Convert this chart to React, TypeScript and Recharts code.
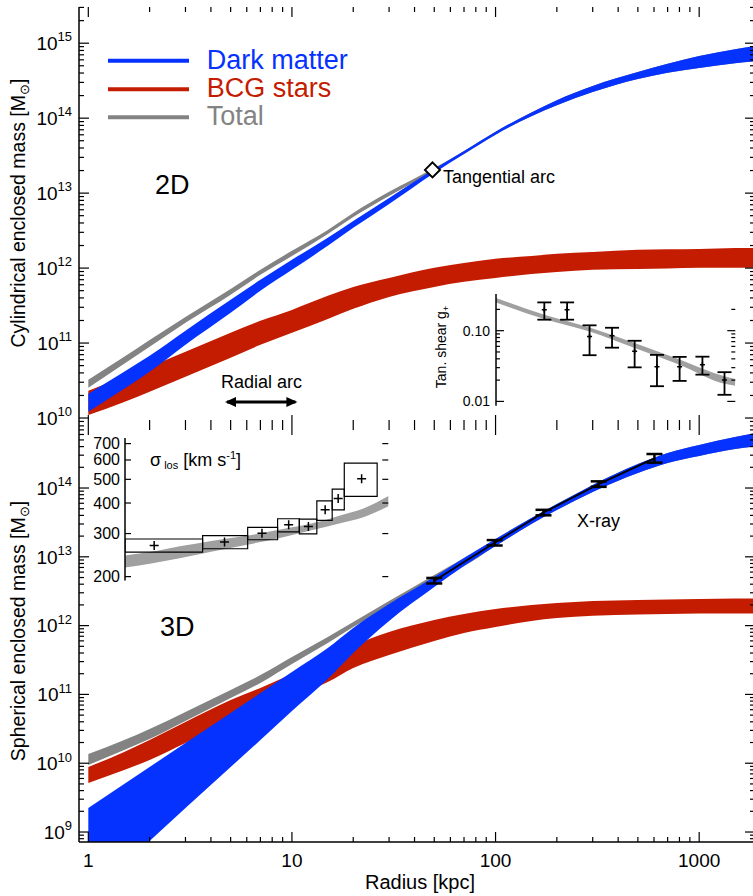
import React from "react"
import {
  ComposedChart,
  Area,
  Line,
  Scatter,
  XAxis,
  YAxis,
  ErrorBar,
  ReferenceArea,
  ReferenceLine,
} from "recharts"

const FONT = "'Liberation Sans', Arial, Helvetica, sans-serif"
const BLUE = "#0532ff"
const RED = "#c41c00"
const GREY = "#838383"
const LIGHT = "#a0a0a0"
const AX = { stroke: "#000", strokeWidth: 1.5 }

const radius = [1, 1.5, 2, 3, 5, 7, 10, 15, 20, 30, 50, 70, 100, 150, 200, 300, 500, 700, 1000, 1500, 2000]

// 2D (cylindrical) enclosed mass bands [Msun]
const dm2dLo = [1.21e10, 2.45e10, 4.13e10, 9.47e10, 2.53e11, 4.97e11, 9.47e11, 1.98e12, 3.44e12, 7.18e12, 1.86e13, 3.33e13, 6.03e13, 1.06e14, 1.49e14, 2.23e14, 3.33e14, 4.03e14, 4.67e14, 5.4e14, 5.79e14]
const dm2dHi = [2.1e10, 4.13e10, 6.75e10, 1.46e11, 3.77e11, 6.97e11, 1.29e12, 2.53e12, 4.26e12, 8.63e12, 2.1e13, 3.66e13, 6.61e13, 1.19e14, 1.74e14, 2.69e14, 4.13e14, 5.31e14, 6.74e14, 8.3e14, 9.46e14]
const bcg2dLo = [1.1e10, 1.64e10, 2.24e10, 3.54e10, 6.35e10, 9.47e10, 1.37e11, 2.1e11, 2.86e11, 4.13e11, 5.61e11, 6.55e11, 7.39e11, 8.37e11, 8.9e11, 9.47e11, 9.76e11, 9.9e11, 1.01e12, 1.01e12, 1.01e12]
const bcg2dHi = [2.31e10, 3.54e10, 4.82e10, 7.64e10, 1.37e11, 1.98e11, 2.77e11, 4.26e11, 5.61e11, 7.39e11, 1.01e12, 1.17e12, 1.33e12, 1.45e12, 1.55e12, 1.64e12, 1.75e12, 1.78e12, 1.8e12, 1.86e12, 1.86e12]
const tot2dLo = [2.53e10, 5.28e10, 8.9e10, 1.86e11, 4.4e11, 8.12e11, 1.45e12, 2.86e12, 4.82e12, 9.19e12, 1.98e13, 3.33e13, 6.03e13, 1.06e14, 1.49e14, 2.23e14, 3.33e14, 4.03e14, 4.67e14, 5.4e14, 5.79e14]
const tot2dHi = [3.23e10, 6.55e10, 1.1e11, 2.23e11, 5.28e11, 9.47e11, 1.7e12, 3.23e12, 5.45e12, 1.04e13, 2.17e13, 3.66e13, 6.61e13, 1.19e14, 1.74e14, 2.69e14, 4.13e14, 5.31e14, 6.74e14, 8.3e14, 9.46e14]

// 3D (spherical) enclosed mass bands [Msun]
const dm3dLo = [1.17e8, 3.54e8, 7.4e8, 2.23e9, 8.81e9, 2.17e10, 5.74e10, 1.67e11, 4.0e11, 1.17e12, 3.64e12, 7.35e12, 1.44e13, 3.0e13, 4.79e13, 8.75e13, 1.65e14, 2.31e14, 2.92e14, 3.69e14, 4.07e14]
const dm3dHi = [2.23e9, 4.99e9, 8.81e9, 1.97e10, 5.37e10, 1.05e11, 2.12e11, 4.72e11, 9.23e11, 2.06e12, 5.08e12, 9.61e12, 1.82e13, 3.66e13, 5.85e13, 1.11e14, 2.23e14, 3.23e14, 4.22e14, 5.51e14, 6.52e14]
const bcg3dLo = [5.15e9, 7.97e9, 1.11e10, 1.97e10, 3.97e10, 5.93e10, 9.16e10, 1.51e11, 2.42e11, 3.74e11, 5.97e11, 7.8e11, 9.55e11, 1.17e12, 1.29e12, 1.39e12, 1.45e12, 1.48e12, 1.5e12, 1.5e12, 1.5e12]
const bcg3dHi = [8.81e9, 1.46e10, 2.17e10, 3.97e10, 8.29e10, 1.24e11, 1.98e11, 3.16e11, 5.05e11, 8.07e11, 1.21e12, 1.48e12, 1.74e12, 1.99e12, 2.13e12, 2.28e12, 2.36e12, 2.39e12, 2.44e12, 2.48e12, 2.48e12]
const tot3dLo = [9.42e9, 1.56e10, 2.25e10, 4.1e10, 8.87e10, 1.47e11, 2.77e11, 5.58e11, 9.55e11, 1.93e12, 4.75e12, 7.35e12, 1.44e13, 3.0e13, 4.79e13, 8.75e13, 1.65e14, 2.31e14, 2.92e14, 3.69e14, 4.07e14]
const tot3dHi = [1.36e10, 2.17e10, 3.14e10, 5.55e10, 1.16e11, 1.91e11, 3.5e11, 6.82e11, 1.13e12, 2.28e12, 5.43e12, 9.61e12, 1.82e13, 3.66e13, 5.85e13, 1.11e14, 2.23e14, 3.23e14, 4.22e14, 5.51e14, 6.52e14]

// X-ray hydrostatic masses
const xrayR = [50, 99, 172, 321, 603]
const xrayM = [4.5e12, 1.6e13, 4.4e13, 1.14e14, 2.7e14]
const xrayErr = [[4.0e11, 4.3e11], [1.4e12, 1.5e12], [3.9e12, 4.2e12], [1.0e13, 1.1e13], [3.6e13, 4.2e13]]

// arcs
const tangArc = { r: 49, m: 2.04e13 }
const radialArcR = [4.8, 10.4]
const radialArcM = 1.64e10

// inset: tangential shear
const shearR = [173, 224, 289, 373, 482, 621, 803, 1040, 1336]
const shearG = [0.198, 0.198, 0.083, 0.085, 0.051, 0.031, 0.031, 0.033, 0.02]
const shearErr = [[0.055, 0.053], [0.055, 0.053], [0.038, 0.036], [0.0275, 0.025], [0.0207, 0.021], [0.0146, 0.0145], [0.0115, 0.0116], [0.0091, 0.0099], [0.0076, 0.0059]]
const shearModelR = [100, 173, 289, 482, 803, 1336, 1510]
const shearModelLo = [0.251, 0.146, 0.097, 0.057, 0.033, 0.0178, 0.0167]
const shearModelHi = [0.29, 0.168, 0.111, 0.067, 0.039, 0.0226, 0.0207]

// inset: velocity dispersion
const sigEdges = [1.51, 3.63, 6.04, 8.47, 10.83, 13.2, 15.7, 18.0, 26.1]
const sigLo = [252, 260, 283, 305, 299, 340, 375, 426]
const sigHi = [285, 294, 318, 345, 344, 408, 456, 583]
const sigR = [2.1, 4.65, 7.1, 9.6, 12.0, 14.5, 16.8, 21.9]
const sigV = [268, 277, 301, 326, 321, 375, 417, 503]
const sigModelR = [1.5, 2, 2.8, 4, 6, 9, 12.7, 17, 22.5, 30]
const sigModelLo = [218, 226, 238, 253, 270, 290, 311, 330, 351, 390]
const sigModelHi = [244, 252, 266, 280, 294, 313, 331, 355, 381, 429]
const sigTicks = [200, 300, 400, 500, 600, 700]

const X_DOM = [0.9, 1880]
const Y2D = [8.07e9, 3.04e15]
const Y3D = [7.16e8, 8.24e14]

const logTicks = (lo: number, hi: number) => {
  const out: number[] = []
  for (let e = Math.floor(Math.log10(lo)); e <= Math.ceil(Math.log10(hi)); e++)
    for (let m = 1; m < 10; m++) {
      const v = m * Math.pow(10, e)
      if (v >= lo && v <= hi) out.push(v)
    }
  return out
}
const isDecade = (v: number) => Math.abs(Math.log10(v) - Math.round(Math.log10(v))) < 1e-6
const decades = (lo: number, hi: number) => logTicks(lo, hi).filter(isDecade)

// tick labels only; tick marks are drawn with reference lines
const labelTick = (render: (v: number, x: number, y: number) => any) => (p: any) => {
  const v = Number(p?.payload?.value)
  return <g>{render(v, Number(p.x), Number(p.y))}</g>
}

// inward IDL-style tick marks on both opposite frame sides
const yMarks = (ticks: number[], big: number, small: number, major = isDecade, yAxisId?: any) =>
  ticks.map((v) => (
    <ReferenceLine
      key={"ym" + v}
      y={v}
      yAxisId={yAxisId}
      shape={(p: any) => {
        const len = major(v) ? big : small
        const a = Math.min(p.x1, p.x2)
        const b = Math.max(p.x1, p.x2)
        return (
          <g stroke="#000" strokeWidth={1.2}>
            <line x1={a} x2={a + len} y1={p.y1} y2={p.y1} />
            <line x1={b} x2={b - len} y1={p.y1} y2={p.y1} />
          </g>
        )
      }}
    />
  ))
const xMarks = (ticks: number[], big: number, small: number, major = isDecade) =>
  ticks.map((v) => (
    <ReferenceLine
      key={"xm" + v}
      x={v}
      shape={(p: any) => {
        const len = major(v) ? big : small
        const a = Math.min(p.y1, p.y2)
        const b = Math.max(p.y1, p.y2)
        return (
          <g stroke="#000" strokeWidth={1.2}>
            <line x1={p.x1} x2={p.x1} y1={a} y2={a + len} />
            <line x1={p.x1} x2={p.x1} y1={b} y2={b - len} />
          </g>
        )
      }}
    />
  ))

const powLabel = (v: number, x: number, y: number) => (
  <text x={x} y={y + 6.8} textAnchor="end" fontSize={19} fontFamily={FONT} fill="#000">
    10<tspan dy={-8.5} fontSize={13}>{Math.round(Math.log10(v))}</tspan>
  </text>
)
const radLabel = (v: number, x: number, y: number) => (
  <text x={x} y={y + 19} textAnchor="middle" fontSize={19} fontFamily={FONT} fill="#000">
    {Math.round(v)}
  </text>
)

const rows = radius.map((r, i) => ({
  r,
  dm2d: [dm2dLo[i], dm2dHi[i]],
  bcg2d: [bcg2dLo[i], bcg2dHi[i]],
  tot2d: [tot2dLo[i], tot2dHi[i]],
  dm3d: [dm3dLo[i], dm3dHi[i]],
  bcg3d: [bcg3dLo[i], bcg3dHi[i]],
  tot3d: [tot3dLo[i], tot3dHi[i]],
  top2d: dm2dHi[i],
  top3d: dm3dHi[i],
}))
const xray = xrayR.map((r, i) => ({ r, m: xrayM[i], err: xrayErr[i] }))
const radialArc = radialArcR.map((r) => ({ r, m: radialArcM }))
const shearPts = shearR.map((r, i) => ({ r, g: shearG[i], err: shearErr[i] }))
const shearModel = shearModelR.map((r, i) => ({ r, band: [shearModelLo[i], shearModelHi[i]], top: shearModelHi[i] }))
const sigPts = sigR.map((r, i) => ({ r, s: sigV[i] }))
const sigModel = sigModelR.map((r, i) => ({ r, band: [sigModelLo[i], sigModelHi[i]], top: sigModelHi[i] }))

const xTicks = logTicks(1, 1880)

const arrowHead = (p: any) => {
  const dir = p.index === 0 ? -1 : 1
  const { cx, cy } = p
  return (
    <polygon
      key={"ah" + p.index}
      points={`${cx + dir * 2},${cy} ${cx - dir * 9},${cy - 5} ${cx - dir * 9},${cy + 5}`}
      fill="#000"
    />
  )
}
const diamond = (p: any) => (
  <polygon
    points={`${p.cx},${p.cy - 7.5} ${p.cx + 7.5},${p.cy} ${p.cx},${p.cy + 7.5} ${p.cx - 7.5},${p.cy}`}
    fill="#fff"
    stroke="#000"
    strokeWidth={2}
  />
)
const plus = (size: number, w: number) => (p: any) => (
  <g stroke="#000" strokeWidth={w}>
    <line x1={p.cx - size} x2={p.cx + size} y1={p.cy} y2={p.cy} />
    <line x1={p.cx} x2={p.cx} y1={p.cy - size} y2={p.cy + size} />
  </g>
)

function MainAxes(yDom: number[], showX: boolean) {
  return [
    <XAxis
      key="xb"
      dataKey="r"
      type="number"
      scale="log"
      domain={X_DOM}
      allowDataOverflow
      ticks={[1, 10, 100, 1000]}
      interval={0}
      tickSize={0}
      tickMargin={6}
      tickLine={false}
      axisLine={AX}
      height={showX ? 50 : 0}
      tick={showX ? labelTick(radLabel) : false}
    />,
    <XAxis
      key="xt"
      xAxisId="t"
      orientation="top"
      dataKey="r"
      type="number"
      scale="log"
      domain={X_DOM}
      allowDataOverflow
      tick={false}
      tickLine={false}
      axisLine={AX}
      height={0}
    />,
    <YAxis
      key="yl"
      type="number"
      scale="log"
      domain={yDom}
      allowDataOverflow
      ticks={decades(yDom[0], yDom[1])}
      interval={0}
      tickSize={0}
      tickMargin={7}
      tickLine={false}
      axisLine={AX}
      width={79}
      tick={labelTick(powLabel)}
    />,
    <YAxis
      key="yr"
      yAxisId="r"
      orientation="right"
      type="number"
      scale="log"
      domain={yDom}
      allowDataOverflow
      tick={false}
      tickLine={false}
      axisLine={AX}
      width={0}
    />,
  ]
}

const band = (key: string, color: string) => (
  <Area
    key={key}
    dataKey={key}
    type="monotone"
    stroke="none"
    fill={color}
    fillOpacity={1}
    dot={false}
    activeDot={false}
    isAnimationActive={false}
  />
)
// invisible series so the top / right frame axes get registered
const ghost = (key: string) => (
  <Line
    key={"ghost" + key}
    xAxisId="t"
    yAxisId="r"
    dataKey={key}
    stroke="none"
    dot={false}
    activeDot={false}
    isAnimationActive={false}
  />
)

export default function App() {
  return (
    <div
      style={{
        position: "absolute",
        left: 0,
        top: 0,
        width: 753,
        height: 896,
        overflow: "hidden",
        background: "#fff",
        fontFamily: FONT,
      }}
    >
      {/* top panel: cylindrical (2D) */}
      <div style={{ position: "absolute", left: 0, top: 0 }}>
        <ComposedChart width={756} height={428} data={rows} margin={{ top: 7, right: 1, bottom: 3, left: 0 }}>
          {MainAxes(Y2D, false)}
          {band("tot2d", GREY)}
          {band("bcg2d", RED)}
          {band("dm2d", BLUE)}
          <Line
            data={radialArc}
            dataKey="m"
            stroke="#000"
            strokeWidth={3}
            dot={arrowHead}
            activeDot={false}
            isAnimationActive={false}
          />
          <Scatter data={[tangArc]} dataKey="m" shape={diamond} isAnimationActive={false} />
          {ghost("top2d")}
          {yMarks(logTicks(Y2D[0], Y2D[1]), 10, 5)}
          {xMarks(xTicks, 10, 5)}
        </ComposedChart>
      </div>

      {/* bottom panel: spherical (3D) */}
      <div style={{ position: "absolute", left: 0, top: 418 }}>
        <ComposedChart width={756} height={478} data={rows} margin={{ top: 7, right: 1, bottom: 4, left: 0 }}>
          {MainAxes(Y3D, true)}
          {band("tot3d", GREY)}
          {band("bcg3d", RED)}
          {band("dm3d", BLUE)}
          <Line
            data={xray}
            dataKey="m"
            type="linear"
            stroke="#000"
            strokeWidth={1.8}
            dot={false}
            activeDot={false}
            isAnimationActive={false}
          >
            <ErrorBar dataKey="err" direction="y" width={8} stroke="#000" strokeWidth={2.5} />
          </Line>
          {ghost("top3d")}
          {yMarks(logTicks(Y3D[0], Y3D[1]), 10, 5)}
          {xMarks(xTicks, 10, 5)}
        </ComposedChart>
      </div>

      {/* inset: tangential shear */}
      <div style={{ position: "absolute", left: 455.7, top: 286.3 }}>
        <ComposedChart width={280.3} height={127.7} data={shearModel} margin={{ top: 8, right: 1, bottom: 8, left: 0 }}>
          <XAxis dataKey="r" type="number" scale="log" domain={[100, 1510]} allowDataOverflow tick={false} tickLine={false} axisLine={AX} height={0} />
          <XAxis xAxisId="t" orientation="top" dataKey="r" type="number" scale="log" domain={[100, 1510]} allowDataOverflow tick={false} tickLine={false} axisLine={AX} height={0} />
          <YAxis
            type="number"
            scale="log"
            domain={[0.0087, 0.33]}
            allowDataOverflow
            ticks={[0.01, 0.1]}
            interval={0}
            tickSize={0}
            tickMargin={6}
            tickLine={false}
            axisLine={AX}
            width={40}
            tick={labelTick((v, x, y) => (
              <text x={x} y={y + 5} textAnchor="end" fontSize={14} fontFamily={FONT} fill="#000">
                {v < 0.05 ? "0.01" : "0.10"}
              </text>
            ))}
          />
          <YAxis yAxisId="r" orientation="right" type="number" scale="log" domain={[0.0087, 0.33]} allowDataOverflow tick={false} tickLine={false} axisLine={AX} width={0} />
          <Area dataKey="band" type="monotone" stroke="none" fill={LIGHT} fillOpacity={1} dot={false} activeDot={false} isAnimationActive={false} />
          <Scatter data={shearPts} dataKey="g" shape={plus(2.5, 1.5)} isAnimationActive={false}>
            <ErrorBar dataKey="err" direction="y" width={7} stroke="#000" strokeWidth={1.8} />
          </Scatter>
          <Line xAxisId="t" yAxisId="r" dataKey="top" stroke="none" dot={false} activeDot={false} isAnimationActive={false} />
          {yMarks(logTicks(0.01, 0.3), 8, 4)}
        </ComposedChart>
      </div>

      {/* inset: velocity dispersion */}
      <div style={{ position: "absolute", left: 80, top: 430.3 }}>
        <ComposedChart width={309.3} height={158.4} data={sigModel} margin={{ top: 8, right: 1, bottom: 8, left: 0 }}>
          <XAxis dataKey="r" type="number" scale="log" domain={[1.51, 29.6]} allowDataOverflow tick={false} tickLine={false} axisLine={AX} height={0} />
          <XAxis xAxisId="t" orientation="top" dataKey="r" type="number" scale="log" domain={[1.51, 29.6]} allowDataOverflow tick={false} tickLine={false} axisLine={AX} height={0} />
          <YAxis
            type="number"
            scale="log"
            domain={[193, 738]}
            allowDataOverflow
            ticks={sigTicks}
            interval={0}
            tickSize={0}
            tickMargin={5}
            tickLine={false}
            axisLine={AX}
            width={45}
            tick={labelTick((v, x, y) => (
              <text x={x} y={y + 5.5} textAnchor="end" fontSize={16} fontFamily={FONT} fill="#000">
                {v}
              </text>
            ))}
          />
          <YAxis yAxisId="r" orientation="right" type="number" scale="log" domain={[193, 738]} allowDataOverflow tick={false} tickLine={false} axisLine={AX} width={0} />
          <Area dataKey="band" type="monotone" stroke="none" fill={LIGHT} fillOpacity={1} dot={false} activeDot={false} isAnimationActive={false} />
          {sigLo.map((lo, i) => (
            <ReferenceArea
              key={"box" + i}
              x1={sigEdges[i]}
              x2={sigEdges[i + 1]}
              y1={lo}
              y2={sigHi[i]}
              fill="none"
              fillOpacity={0}
              stroke="#000"
              strokeWidth={1.2}
              ifOverflow="hidden"
            />
          ))}
          <Scatter data={sigPts} dataKey="s" shape={plus(4.5, 1.5)} isAnimationActive={false} />
          <Line xAxisId="t" yAxisId="r" dataKey="top" stroke="none" dot={false} activeDot={false} isAnimationActive={false} />
          {yMarks(sigTicks, 6, 6)}
        </ComposedChart>
      </div>

      {/* annotations and legend */}
      <svg
        width={753}
        height={896}
        style={{ position: "absolute", left: 0, top: 0, pointerEvents: "none" }}
        fontFamily={FONT}
      >
        <line x1={108} x2={189} y1={60.7} y2={60.7} stroke={BLUE} strokeWidth={4} />
        <line x1={108} x2={189} y1={89.3} y2={89.3} stroke={RED} strokeWidth={4} />
        <line x1={108} x2={189} y1={117.3} y2={117.3} stroke={GREY} strokeWidth={4} />
        <text x={206.7} y={68.5} fontSize={27} fill={BLUE}>Dark matter</text>
        <text x={206.7} y={97} fontSize={27} fill={RED}>BCG stars</text>
        <text x={206.7} y={125} fontSize={27} fill={GREY}>Total</text>

        <text x={155} y={194} fontSize={27}>2D</text>
        <text x={160} y={636} fontSize={27}>3D</text>
        <text x={443} y={183} fontSize={18}>Tangential arc</text>
        <text x={221} y={388} fontSize={18}>Radial arc</text>
        <text x={577} y={527} fontSize={18}>X-ray</text>

        <text x={25} y={213} fontSize={19.5} textAnchor="middle" transform="rotate(-90 25 213)">
          Cylindrical enclosed mass [M<tspan fontSize={13} dy={4}>⊙</tspan><tspan dy={-4}>]</tspan>
        </text>
        <text x={25} y={631} fontSize={19.5} textAnchor="middle" transform="rotate(-90 25 631)">
          Spherical enclosed mass [M<tspan fontSize={13} dy={4}>⊙</tspan><tspan dy={-4}>]</tspan>
        </text>
        <text x={420} y={889} fontSize={20} textAnchor="middle">Radius [kpc]</text>

        <text x={150} y={466} fontSize={18}>
          σ<tspan fontSize={11} dy={3}> los</tspan>
          <tspan dy={-3}> [km s</tspan>
          <tspan fontSize={11} dy={-7}>-1</tspan>
          <tspan dy={7}>]</tspan>
        </text>
        <text x={446} y={347} fontSize={14} textAnchor="middle" transform="rotate(-90 446 347)">
          Tan. shear  g<tspan fontSize={9} dy={3}>+</tspan>
        </text>
      </svg>
    </div>
  )
}
